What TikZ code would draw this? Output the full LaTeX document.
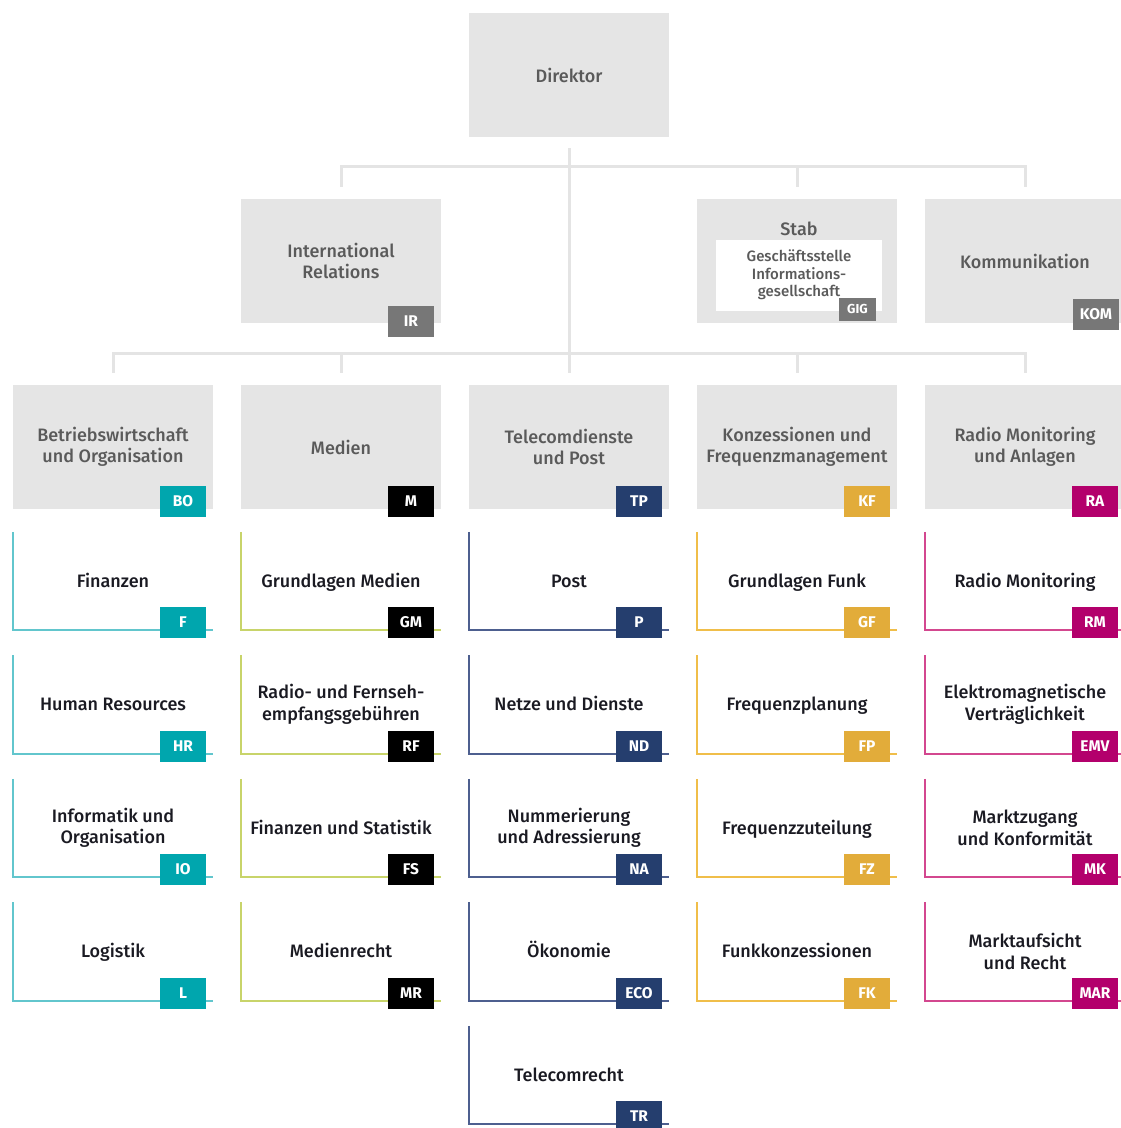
\documentclass[tikz,border=0pt]{standalone}
\usepackage{fontspec}
\setmainfont{Fira Sans}
\newfontfamily\semifont{Fira Sans}[UprightFont=* Medium, BoldFont=* SemiBold]
\usetikzlibrary{positioning,calc}

\definecolor{boxgrey}{HTML}{E5E5E5}
\definecolor{conngrey}{HTML}{E4E4E4}
\definecolor{unittext}{HTML}{5A5A5A}
\definecolor{subtext}{HTML}{1A1A22}
\definecolor{badgegrey}{HTML}{777777}
\definecolor{boteal}{HTML}{00A6AE}
\definecolor{bolight}{HTML}{62C6CD}
\definecolor{mlight}{HTML}{C8D46A}
\definecolor{tpnavy}{HTML}{253E6E}
\definecolor{tplight}{HTML}{4D5F8F}
\definecolor{kfgold}{HTML}{E2AC3A}
\definecolor{kflight}{HTML}{F0BE4A}
\definecolor{ramag}{HTML}{B3006C}
\definecolor{ralight}{HTML}{D3478F}

\begin{document}
\begin{tikzpicture}[x=1pt, y=-1pt,
  unit/.style={fill=boxgrey, minimum width=200pt, minimum height=124pt, inner sep=0pt,
    align=center, text=unittext, font=\semifont\fontsize{18}{20.5}\selectfont},
  sub/.style={minimum width=200pt, minimum height=98pt, inner sep=0pt,
    align=center, text=subtext, font=\semifont\fontsize{18}{21.5}\selectfont},
  oneline/.style={text height=14pt, text depth=2pt},
  subline/.style={line width=1.6pt},
  badge/.style={anchor=south east, minimum width=46pt, minimum height=31pt, inner sep=0pt,
    text=white, font=\bfseries\fontsize{15.5}{15.5}\selectfont},
  conn/.style={conngrey, line width=3pt}
]
\clip (0,0) rectangle (1121,1128);

% Director
\node[unit] (dir) at (569,75) {Direktor};

% Staff units
\node[unit] (ir) at (341,261) {International\\Relations};
\node[unit] (stab) at (797,261) {};
\node[text=unittext, font=\semifont\fontsize{18}{20.5}\selectfont] (stabt) at (799,229) {Stab};
\node[fill=white, minimum width=166pt, minimum height=71pt, inner sep=0pt, align=center,
  text=unittext, font=\semifont\fontsize{15}{17.5}\selectfont] (gig) at (799,275)
  {Geschäftsstelle\\Informations-\\gesellschaft};
\node[unit] (kom) at (1025,261) {Kommunikation};

\node[badge, fill=badgegrey] (irb) at ([xshift=-7pt,yshift=-14pt]ir.south east) {IR};
\node[badge, fill=badgegrey, minimum width=37pt, minimum height=23pt,
  font=\bfseries\fontsize{13}{13}\selectfont] (gigb) at ([xshift=-6pt,yshift=-10pt]gig.south east) {GIG};
\node[badge, fill=badgegrey] (komb) at ([xshift=-6pt,yshift=-7pt]kom.south east) {KOM};

% Divisions
\node[unit] (bo) at (113,447) {Betriebswirtschaft\\und Organisation};
\node[unit] (m) at (341,447) {Medien};
\node[unit] (tp) at (569,447) {Telecomdienste\\und Post};
\node[unit] (kf) at (797,447) {Konzessionen und\\Frequenzmanagement};
\node[unit] (ra) at (1025,447) {Radio Monitoring\\und Anlagen};

\node[badge, fill=boteal] (bob) at ([xshift=-7pt,yshift=-8pt]bo.south east) {BO};
\node[badge, fill=black] (mb) at ([xshift=-7pt,yshift=-8pt]m.south east) {M};
\node[badge, fill=tpnavy] (tpb) at ([xshift=-7pt,yshift=-8pt]tp.south east) {TP};
\node[badge, fill=kfgold] (kfb) at ([xshift=-7pt,yshift=-8pt]kf.south east) {KF};
\node[badge, fill=ramag] (rab) at ([xshift=-7pt,yshift=-8pt]ra.south east) {RA};

% Connectors
\draw[conn] ([yshift=-11pt]dir.south) -- ([yshift=12pt]tp.north);
\draw[conn] ([yshift=12pt]ir.north) -- ++(0,-20) -| ([yshift=12pt]kom.north);
\draw[conn] ([yshift=12pt]stab.north) -- ++(0,-20);
\draw[conn] ([yshift=12pt]bo.north) -- ++(0,-19) -| ([yshift=12pt]ra.north);
\draw[conn] ([yshift=12pt]m.north) -- ++(0,-19);
\draw[conn] ([yshift=12pt]kf.north) -- ++(0,-19);

% Sections BO
\node[sub, oneline] (f) at (113,581) {Finanzen};
\node[sub, oneline] (hr) at (113,704.5) {Human Resources};
\node[sub] (io) at (113,828) {Informatik und\\Organisation};
\node[sub, oneline] (l) at (113,951.5) {Logistik};
\draw[subline, bolight] (f.north west) |- (f.south east);
\draw[subline, bolight] (hr.north west) |- (hr.south east);
\draw[subline, bolight] (io.north west) |- (io.south east);
\draw[subline, bolight] (l.north west) |- (l.south east);
\node[badge, fill=boteal] (fb) at ([xshift=-7pt,yshift=-8pt]f.south east) {F};
\node[badge, fill=boteal] (hrb) at ([xshift=-7pt,yshift=-8pt]hr.south east) {HR};
\node[badge, fill=boteal] (iob) at ([xshift=-7pt,yshift=-8pt]io.south east) {IO};
\node[badge, fill=boteal] (lb) at ([xshift=-7pt,yshift=-8pt]l.south east) {L};

% Sections M
\node[sub, oneline] (gm) at (341,581) {Grundlagen Medien};
\node[sub] (rf) at (341,704.5) {Radio- und Fernseh-\\empfangsgebühren};
\node[sub, oneline] (fs) at (341,828) {Finanzen und Statistik};
\node[sub, oneline] (mr) at (341,951.5) {Medienrecht};
\draw[subline, mlight] (gm.north west) |- (gm.south east);
\draw[subline, mlight] (rf.north west) |- (rf.south east);
\draw[subline, mlight] (fs.north west) |- (fs.south east);
\draw[subline, mlight] (mr.north west) |- (mr.south east);
\node[badge, fill=black] (gmb) at ([xshift=-7pt,yshift=-8pt]gm.south east) {GM};
\node[badge, fill=black] (rfb) at ([xshift=-7pt,yshift=-8pt]rf.south east) {RF};
\node[badge, fill=black] (fsb) at ([xshift=-7pt,yshift=-8pt]fs.south east) {FS};
\node[badge, fill=black] (mrb) at ([xshift=-7pt,yshift=-8pt]mr.south east) {MR};

% Sections TP
\node[sub, oneline] (p) at (569,581) {Post};
\node[sub, oneline] (nd) at (569,704.5) {Netze und Dienste};
\node[sub] (na) at (569,828) {Nummerierung\\und Adressierung};
\node[sub, oneline] (eco) at (569,951.5) {Ökonomie};
\node[sub, oneline] (tr) at (569,1075) {Telecomrecht};
\draw[subline, tplight] (p.north west) |- (p.south east);
\draw[subline, tplight] (nd.north west) |- (nd.south east);
\draw[subline, tplight] (na.north west) |- (na.south east);
\draw[subline, tplight] (eco.north west) |- (eco.south east);
\draw[subline, tplight] (tr.north west) |- (tr.south east);
\node[badge, fill=tpnavy] (pb) at ([xshift=-7pt,yshift=-8pt]p.south east) {P};
\node[badge, fill=tpnavy] (ndb) at ([xshift=-7pt,yshift=-8pt]nd.south east) {ND};
\node[badge, fill=tpnavy] (nab) at ([xshift=-7pt,yshift=-8pt]na.south east) {NA};
\node[badge, fill=tpnavy] (ecob) at ([xshift=-7pt,yshift=-8pt]eco.south east) {ECO};
\node[badge, fill=tpnavy] (trb) at ([xshift=-7pt,yshift=-8pt]tr.south east) {TR};

% Sections KF
\node[sub, oneline] (gf) at (797,581) {Grundlagen Funk};
\node[sub, oneline] (fp) at (797,704.5) {Frequenzplanung};
\node[sub, oneline] (fz) at (797,828) {Frequenzzuteilung};
\node[sub, oneline] (fk) at (797,951.5) {Funkkonzessionen};
\draw[subline, kflight] (gf.north west) |- (gf.south east);
\draw[subline, kflight] (fp.north west) |- (fp.south east);
\draw[subline, kflight] (fz.north west) |- (fz.south east);
\draw[subline, kflight] (fk.north west) |- (fk.south east);
\node[badge, fill=kfgold] (gfb) at ([xshift=-7pt,yshift=-8pt]gf.south east) {GF};
\node[badge, fill=kfgold] (fpb) at ([xshift=-7pt,yshift=-8pt]fp.south east) {FP};
\node[badge, fill=kfgold] (fzb) at ([xshift=-7pt,yshift=-8pt]fz.south east) {FZ};
\node[badge, fill=kfgold] (fkb) at ([xshift=-7pt,yshift=-8pt]fk.south east) {FK};

% Sections RA
\node[sub, oneline] (rm) at (1025,581) {Radio Monitoring};
\node[sub] (emv) at (1025,704.5) {Elektromagnetische\\Verträglichkeit};
\node[sub] (mk) at (1025,828) {Marktzugang\\und Konformität};
\node[sub] (mar) at (1025,951.5) {Marktaufsicht\\und Recht};
\draw[subline, ralight] (rm.north west) |- (rm.south east);
\draw[subline, ralight] (emv.north west) |- (emv.south east);
\draw[subline, ralight] (mk.north west) |- (mk.south east);
\draw[subline, ralight] (mar.north west) |- (mar.south east);
\node[badge, fill=ramag] (rmb) at ([xshift=-7pt,yshift=-8pt]rm.south east) {RM};
\node[badge, fill=ramag] (emvb) at ([xshift=-7pt,yshift=-8pt]emv.south east) {EMV};
\node[badge, fill=ramag] (mkb) at ([xshift=-7pt,yshift=-8pt]mk.south east) {MK};
\node[badge, fill=ramag] (marb) at ([xshift=-7pt,yshift=-8pt]mar.south east) {MAR};
\end{tikzpicture}
\end{document}
